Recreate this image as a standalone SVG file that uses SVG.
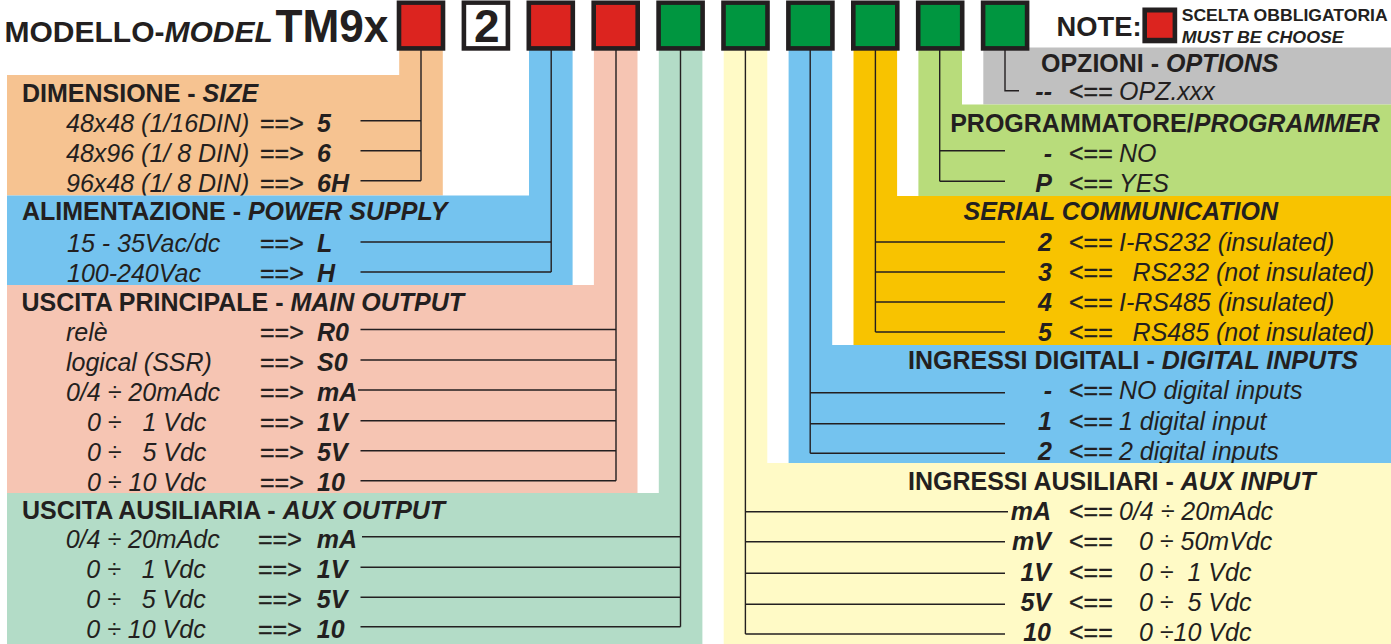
<svg xmlns="http://www.w3.org/2000/svg" width="1391" height="644" viewBox="0 0 1391 644">
<style>
text{font-family:"Liberation Sans",Arial,sans-serif;fill:#231f20}
.h{font-size:25px;font-weight:bold}
.bi{font-weight:bold;font-style:italic}
.r{font-size:25px;font-style:italic}
.ar{font-size:25px;stroke:#231f20;stroke-width:0.4}
.v{font-size:25px;font-weight:bold;font-style:italic}
.ve{font-size:25px;font-weight:bold;font-style:italic;text-anchor:end}
.frame{fill:#231f20}
.red{fill:#dc241f}
.grn{fill:#009640}
.con{stroke:#231f20;stroke-width:1.4;fill:none}
</style>
<rect width="1391" height="644" fill="#ffffff"/>

<g id="size">
<path d="M399.2,50 H442.8 V195.5 H7 V75 H399.2 Z" fill="#f6c391"/>
<text class="h" x="22" y="101.7">DIMENSIONE - <tspan class="bi">SIZE</tspan></text>
<text class="r" x="66" y="131.5">48x48 (1/16DIN)</text><text class="ar" x="260" y="131.5">==&gt;</text><text class="v" x="317" y="131.5">5</text>
<text class="r" x="66" y="161.5">48x96 (1/ 8 DIN)</text><text class="ar" x="260" y="161.5">==&gt;</text><text class="v" x="317" y="161.5">6</text>
<text class="r" x="66" y="191.5">96x48 (1/ 8 DIN)</text><text class="ar" x="260" y="191.5">==&gt;</text><text class="v" x="317" y="191.5">6H</text>
</g>

<g id="power">
<path d="M529,50 H572.6 V285 H7 V195.5 H529 Z" fill="#74c3ef"/>
<text class="h" x="22" y="220">ALIMENTAZIONE - <tspan class="bi">POWER SUPPLY</tspan></text>
<text class="r" x="67" y="251.7">15 - 35Vac/dc</text><text class="ar" x="260" y="251.7">==&gt;</text><text class="v" x="317" y="251.7">L</text>
<text class="r" x="67" y="281.7">100-240Vac</text><text class="ar" x="260" y="281.7">==&gt;</text><text class="v" x="317" y="281.7">H</text>
</g>

<g id="main-output">
<path d="M593.9,50 H637.5 V493 H7 V285 H593.9 Z" fill="#f6c5b3"/>
<text class="h" x="21.5" y="310.7">USCITA PRINCIPALE - <tspan class="bi">MAIN OUTPUT</tspan></text>
<text class="r" x="66" y="340.5">relè</text><text class="ar" x="260" y="340.5">==&gt;</text><text class="v" x="317" y="340.5">R0</text>
<text class="r" x="66" y="370.5">logical (SSR)</text><text class="ar" x="260" y="370.5">==&gt;</text><text class="v" x="317" y="370.5">S0</text>
<text class="r" x="66" y="400.5">0/4 ÷ 20mAdc</text><text class="ar" x="260" y="400.5">==&gt;</text><text class="v" x="317" y="400.5">mA</text>
<text class="r" x="87" y="431" xml:space="preserve">0 ÷   1 Vdc</text><text class="ar" x="260" y="431">==&gt;</text><text class="v" x="317" y="431">1V</text>
<text class="r" x="87" y="461" xml:space="preserve">0 ÷   5 Vdc</text><text class="ar" x="260" y="461">==&gt;</text><text class="v" x="317" y="461">5V</text>
<text class="r" x="87" y="491" xml:space="preserve">0 ÷ 10 Vdc</text><text class="ar" x="260" y="491">==&gt;</text><text class="v" x="317" y="491">10</text>
</g>

<g id="aux-output">
<path d="M658.8,50 H702.4 V644 H7 V493 H658.8 Z" fill="#b3dcc7"/>
<text class="h" x="22" y="519.3">USCITA AUSILIARIA - <tspan class="bi">AUX OUTPUT</tspan></text>
<text class="r" x="65.7" y="548.3">0/4 ÷ 20mAdc</text><text class="ar" x="258" y="548.3">==&gt;</text><text class="v" x="316.8" y="548.3">mA</text>
<text class="r" x="86.3" y="578.3" xml:space="preserve">0 ÷   1 Vdc</text><text class="ar" x="258" y="578.3">==&gt;</text><text class="v" x="316.8" y="578.3">1V</text>
<text class="r" x="86.3" y="608.3" xml:space="preserve">0 ÷   5 Vdc</text><text class="ar" x="258" y="608.3">==&gt;</text><text class="v" x="316.8" y="608.3">5V</text>
<text class="r" x="86.3" y="638" xml:space="preserve">0 ÷ 10 Vdc</text><text class="ar" x="258" y="638">==&gt;</text><text class="v" x="316.8" y="638">10</text>
</g>

<g id="options">
<rect x="983.3" y="47.5" width="407.7" height="57" fill="#c0c0c0"/>
<text class="h" x="1041" y="71.7">OPZIONI - <tspan class="bi">OPTIONS</tspan></text>
<text class="ve" x="1052" y="99.5">--</text><text class="ar" x="1069" y="99.5">&lt;==</text><text class="r" x="1119" y="99.5">OPZ.xxx</text>
</g>

<g id="programmer">
<path d="M918.4,50 H962 V104.5 H1391 V196 H918.4 Z" fill="#b8dc7b"/>
<text class="h" x="950.2" y="131.7">PROGRAMMATORE/<tspan class="bi">PROGRAMMER</tspan></text>
<text class="ve" x="1052" y="161.7">-</text><text class="ar" x="1069" y="161.7">&lt;==</text><text class="r" x="1119" y="161.7">NO</text>
<text class="ve" x="1052" y="191.7">P</text><text class="ar" x="1069" y="191.7">&lt;==</text><text class="r" x="1119" y="191.7">YES</text>
</g>

<g id="serial">
<path d="M853.5,50 H897.1 V196 H1391 V345 H853.5 Z" fill="#f8c300"/>
<text class="h bi" x="963.6" y="220">SERIAL COMMUNICATION</text>
<text class="ve" x="1052" y="250.7">2</text><text class="ar" x="1069" y="250.7">&lt;==</text><text class="r" x="1119" y="250.7">I-RS232 (insulated)</text>
<text class="ve" x="1052" y="280.7">3</text><text class="ar" x="1069" y="280.7">&lt;==</text><text class="r" x="1132.6" y="280.7">RS232 (not insulated)</text>
<text class="ve" x="1052" y="310.7">4</text><text class="ar" x="1069" y="310.7">&lt;==</text><text class="r" x="1119" y="310.7">I-RS485 (insulated)</text>
<text class="ve" x="1052" y="340.7">5</text><text class="ar" x="1069" y="340.7">&lt;==</text><text class="r" x="1132.6" y="340.7">RS485 (not insulated)</text>
</g>

<g id="digital-inputs">
<path d="M788.6,50 H832.2 V345 H1391 V463 H788.6 Z" fill="#74c3ef"/>
<text class="h" x="908" y="369.3">INGRESSI DIGITALI - <tspan class="bi">DIGITAL INPUTS</tspan></text>
<text class="ve" x="1052" y="399">-</text><text class="ar" x="1069" y="399">&lt;==</text><text class="r" x="1119" y="399">NO digital inputs</text>
<text class="ve" x="1052" y="429.5">1</text><text class="ar" x="1069" y="429.5">&lt;==</text><text class="r" x="1119" y="429.5">1 digital input</text>
<text class="ve" x="1052" y="459.5">2</text><text class="ar" x="1069" y="459.5">&lt;==</text><text class="r" x="1119" y="459.5">2 digital inputs</text>
</g>

<g id="aux-input">
<path d="M723.7,50 H767.3 V463 H1391 V644 H723.7 Z" fill="#fffac6"/>
<text class="h" x="908" y="490">INGRESSI AUSILIARI - <tspan class="bi">AUX INPUT</tspan></text>
<text class="ve" x="1051" y="520">mA</text><text class="ar" x="1069" y="520">&lt;==</text><text class="r" x="1119" y="520">0/4 ÷ 20mAdc</text>
<text class="ve" x="1051" y="549.7">mV</text><text class="ar" x="1069" y="549.7">&lt;==</text><text class="r" x="1139" y="549.7">0 ÷ 50mVdc</text>
<text class="ve" x="1051" y="580.5">1V</text><text class="ar" x="1069" y="580.5">&lt;==</text><text class="r" x="1139" y="580.5" xml:space="preserve">0 ÷  1 Vdc</text>
<text class="ve" x="1051" y="610.5">5V</text><text class="ar" x="1069" y="610.5">&lt;==</text><text class="r" x="1139" y="610.5" xml:space="preserve">0 ÷  5 Vdc</text>
<text class="ve" x="1051" y="640.5">10</text><text class="ar" x="1069" y="640.5">&lt;==</text><text class="r" x="1139" y="640.5">0 ÷10 Vdc</text>
</g>

<g id="connectors" class="con">
<path d="M421,50 V180.7 M360.5,120.7 H421 M360.5,150.7 H421 M360.5,180.7 H421"/>
<path d="M551.2,50 V272 M360.5,242 H551.2 M360.5,272 H551.2"/>
<path d="M616,50 V480.7 M360.5,329.5 H616 M360.5,360 H616 M358,390 H616 M360.5,420.7 H616 M360.5,450.7 H616 M360.5,480.7 H616"/>
<path d="M680.5,50 V626.8 M362,536.7 H680.5 M360.5,567.3 H680.5 M360.5,597.3 H680.5 M360.5,626.8 H680.5"/>
<path d="M745.4,50 V634 M745.4,511.7 H1008 M745.4,541.7 H1005 M745.4,573.3 H1005 M745.4,604.3 H1005 M745.4,634 H1005"/>
<path d="M810.2,50 V453.3 M810.2,392.7 H1005 M810.2,423.7 H1005 M810.2,453.3 H1005"/>
<path d="M875.4,50 V332 M875.4,242 H1005 M875.4,272 H1005 M875.4,302 H1005 M875.4,332 H1005"/>
<path d="M939.7,50 V181.3 M939.7,150.7 H1005 M939.7,181.3 H1005"/>
<path d="M1005,50 V90.7 H1019"/>
</g>

<g id="title">
<text x="4.5" y="41.7" font-size="30" font-weight="bold">MODELLO-<tspan font-style="italic">MODEL</tspan></text>
<text x="275.4" y="41.7" font-size="47" font-weight="bold" textLength="113" lengthAdjust="spacingAndGlyphs">TM9x</text>
</g>

<g id="code-boxes">
<g id="box1"><rect class="frame" x="396.7" y="0.5" width="48.6" height="50.2"/><rect class="red" x="401.3" y="4.9" width="39.4" height="41.2"/></g>
<g id="box2"><rect class="frame" x="461.6" y="0.5" width="48.6" height="50.2"/><rect fill="#ffffff" x="466.2" y="4.9" width="39.4" height="41.2"/><text x="486.8" y="41.7" font-size="46" font-weight="bold" text-anchor="middle">2</text></g>
<g id="box3"><rect class="frame" x="526.5" y="0.5" width="48.6" height="50.2"/><rect class="red" x="531.1" y="4.9" width="39.4" height="41.2"/></g>
<g id="box4"><rect class="frame" x="591.4" y="0.5" width="48.6" height="50.2"/><rect class="red" x="596" y="4.9" width="39.4" height="41.2"/></g>
<g id="box5"><rect class="frame" x="656.3" y="0.5" width="48.6" height="50.2"/><rect class="grn" x="660.9" y="4.9" width="39.4" height="41.2"/></g>
<g id="box6"><rect class="frame" x="721.2" y="0.5" width="48.6" height="50.2"/><rect class="grn" x="725.8" y="4.9" width="39.4" height="41.2"/></g>
<g id="box7"><rect class="frame" x="786.1" y="0.5" width="48.6" height="50.2"/><rect class="grn" x="790.7" y="4.9" width="39.4" height="41.2"/></g>
<g id="box8"><rect class="frame" x="851" y="0.5" width="48.6" height="50.2"/><rect class="grn" x="855.6" y="4.9" width="39.4" height="41.2"/></g>
<g id="box9"><rect class="frame" x="915.9" y="0.5" width="48.6" height="50.2"/><rect class="grn" x="920.5" y="4.9" width="39.4" height="41.2"/></g>
<g id="box10"><rect class="frame" x="980.8" y="0.5" width="48.6" height="50.2"/><rect class="grn" x="985.4" y="4.9" width="39.4" height="41.2"/></g>
</g>

<g id="note">
<text x="1056.6" y="36" font-size="27.5" font-weight="bold" textLength="85" lengthAdjust="spacingAndGlyphs">NOTE:</text>
<rect class="frame" x="1142.4" y="7.5" width="34.8" height="35.8"/>
<rect class="red" x="1147" y="12.5" width="25.6" height="25.3"/>
<text x="1181.7" y="20.8" font-size="16.5" font-weight="bold" textLength="206" lengthAdjust="spacingAndGlyphs">SCELTA OBBLIGATORIA</text>
<text x="1181.7" y="42.7" font-size="16.5" font-weight="bold" font-style="italic" textLength="162" lengthAdjust="spacingAndGlyphs">MUST BE CHOOSE</text>
</g>
</svg>
